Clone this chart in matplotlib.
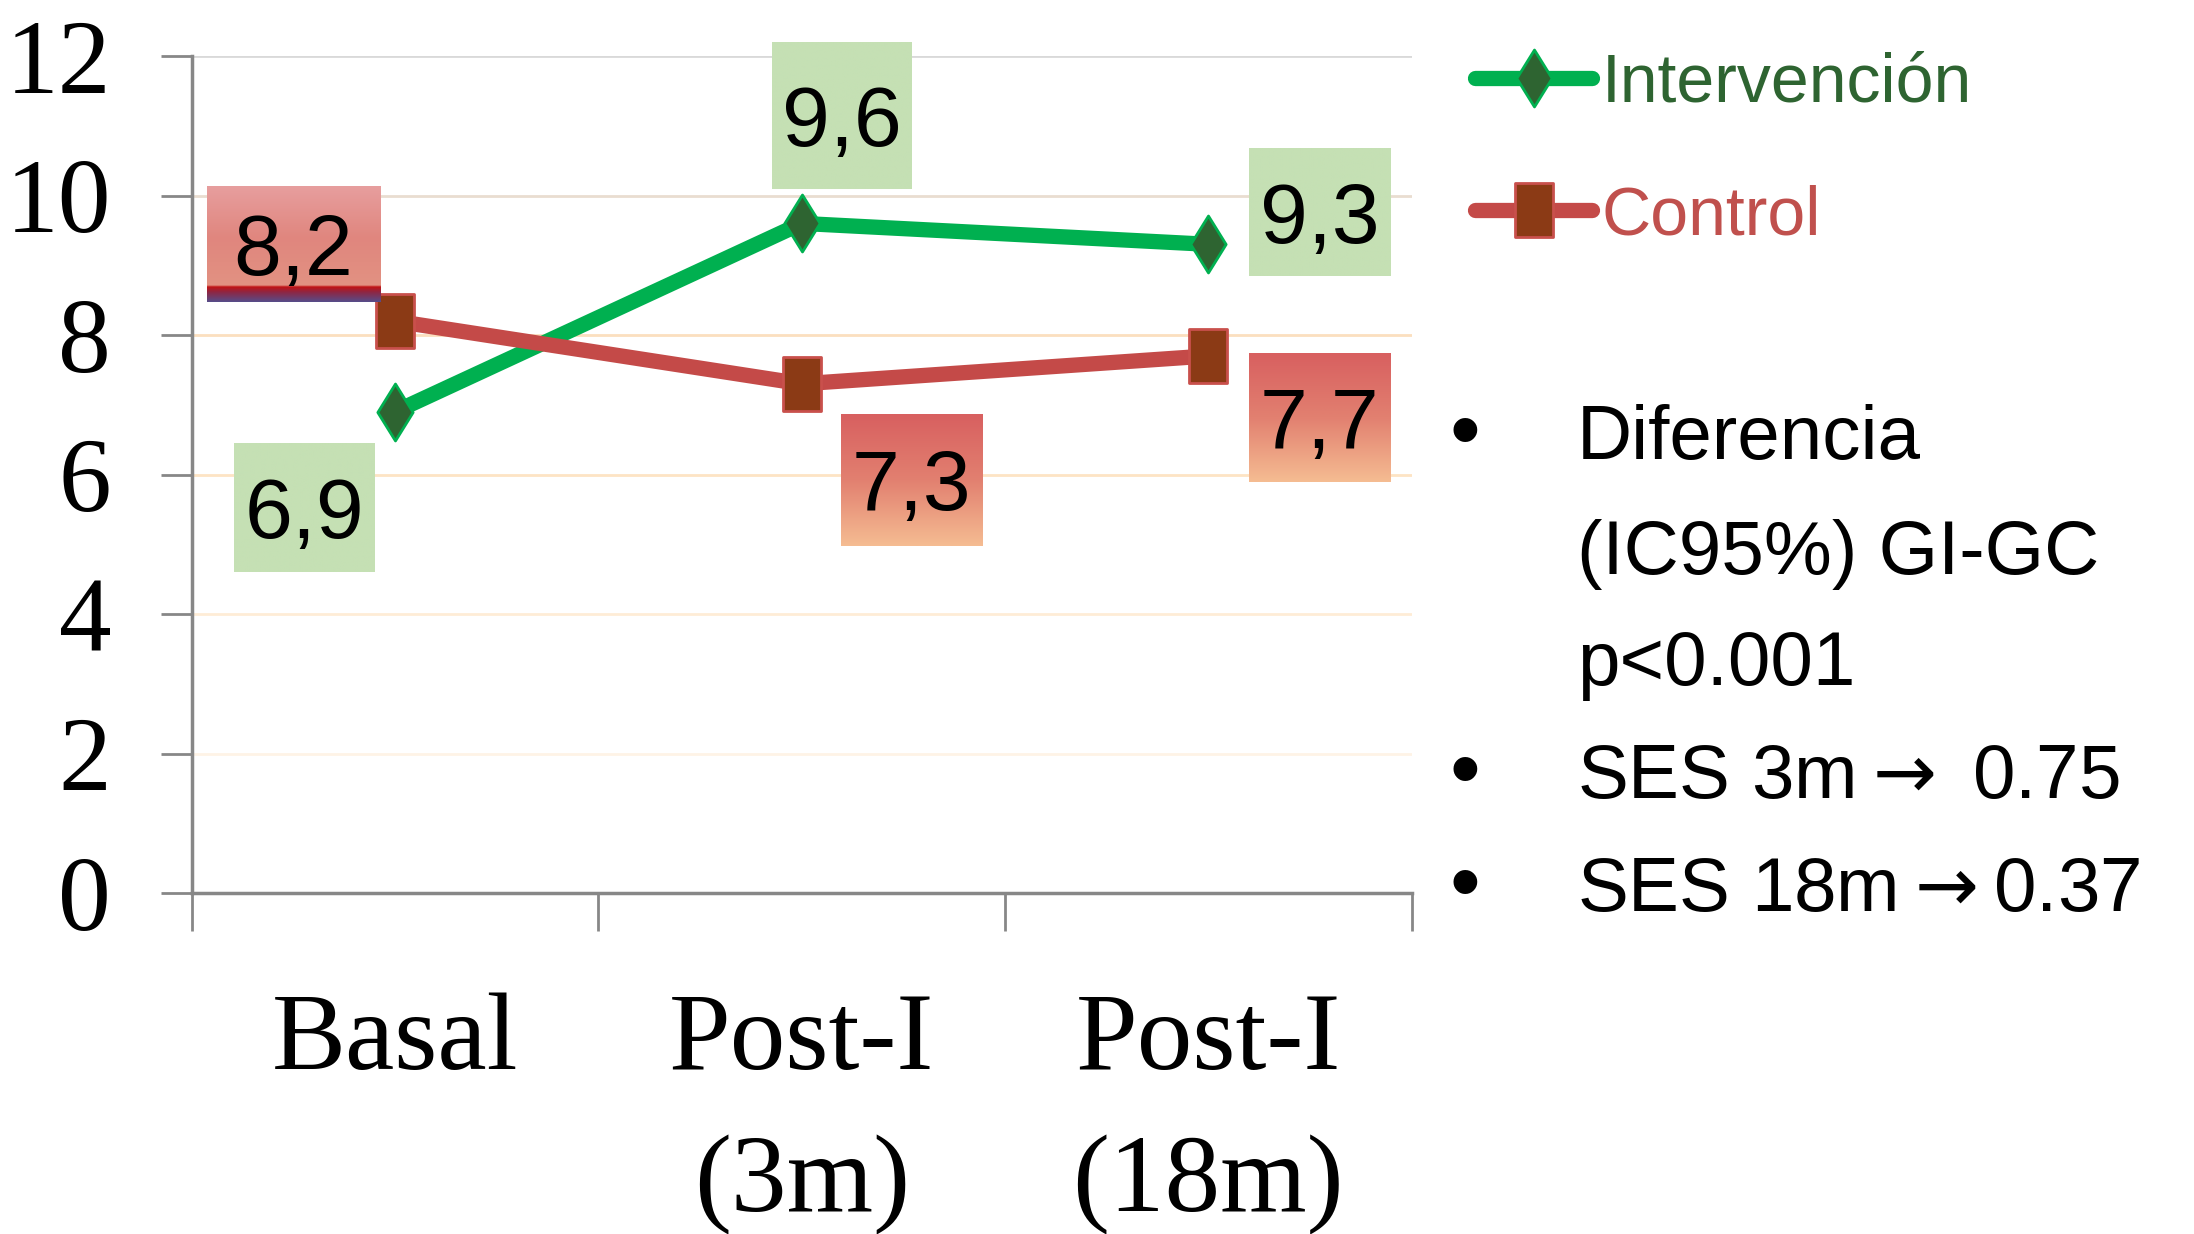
import numpy as np
import matplotlib
matplotlib.use('Agg')
import matplotlib.pyplot as plt
from matplotlib.path import Path

plt.rcParams['mathtext.fontset'] = 'dejavusans'

# data
categories = ['Basal', 'Post-I\n(3m)', 'Post-I\n(18m)']
intervencion = [6.9, 9.6, 9.3]
control = [8.2, 7.3, 7.7]
yticks = [0, 2, 4, 6, 8, 10, 12]
series_names = ['Intervención', 'Control']
notes = ['Diferencia', '(IC95%) GI-GC', 'p<0.001',
         'SES 3m$\\rightarrow$ 0.75', 'SES 18m$\\rightarrow$0.37']
bullets = [True, False, False, True, True]

SANS = ['Liberation Sans', 'DejaVu Sans']
SERIF = ['Liberation Serif', 'DejaVu Serif']
W, H = 2194, 1234
DPI = 100

GREEN, GREEN_DK = '#00b050', '#2e6431'
RED, BROWN = '#c44a48', '#8b3a15'
AXCOL = '#878787'

diamond = Path([(0, -1), (0.62, 0), (0, 1), (-0.62, 0), (0, -1)],
               [Path.MOVETO, Path.LINETO, Path.LINETO, Path.LINETO, Path.CLOSEPOLY])
rect = Path([(-0.69, -1), (0.69, -1), (0.69, 1), (-0.69, 1), (-0.69, -1)],
            [Path.MOVETO, Path.LINETO, Path.LINETO, Path.LINETO, Path.CLOSEPOLY])

fig = plt.figure(figsize=(W / DPI, H / DPI), dpi=DPI)
ax = fig.add_axes([191.7 / W, 1 - 893 / H, 1220 / W, 837 / H])
x = np.arange(len(categories))

ln_i = ax.plot(x, intervencion, color=GREEN, lw=11, marker=diamond, ms=41,
               mfc=GREEN_DK, mec=GREEN, mew=2, solid_capstyle='round', zorder=3)[0]
ln_c = ax.plot(x, control, color=RED, lw=11, marker=rect, ms=39,
               mfc=BROWN, mec='#c9504c', mew=2, solid_capstyle='round', zorder=3)[0]

ax.set_xlim(-0.5, len(categories) - 0.5)
ax.set_ylim(yticks[0], yticks[-1])
ax.set_yticks(yticks)
ax.set_yticklabels([str(v) for v in yticks], fontfamily=SERIF, fontsize=76)
ax.set_xticks(x)
ax.set_xticklabels(categories, fontfamily=SERIF, fontsize=80, linespacing=1.56)
ax.set_xticks(np.arange(len(categories) + 1) - 0.5, minor=True)
ax.tick_params(axis='x', which='major', length=0, pad=72)
ax.tick_params(axis='x', which='minor', length=27, width=2, color=AXCOL)
ax.tick_params(axis='y', length=22, width=2, color=AXCOL, pad=36)
for s in ['top', 'right']:
    ax.spines[s].set_visible(False)
for s in ['left', 'bottom']:
    ax.spines[s].set_color(AXCOL)
    ax.spines[s].set_linewidth(2.5)

ax.yaxis.grid(True, lw=2)
grid_cols = ['none', '#fef3e6', '#feecd6', '#fde4c4', '#fbdfbf', '#e9ddd0', '#d9d9d9']
for gl, c in zip(ax.get_ygridlines(), grid_cols):
    gl.set_color(c)
ax.set_axisbelow(True)


# label box fills
def ramp(stops, n=120):
    pos = np.array([s[0] for s in stops])
    cols = np.array([s[1] for s in stops], dtype=float) / 255
    t = np.linspace(0, 1, n)
    return np.stack([np.interp(t, pos, cols[:, k]) for k in range(3)], axis=1)[:, None, :]

fill_green = ramp([(0, (197, 224, 180)), (1, (197, 224, 180))], n=2)
fill_first = ramp([(0, (231, 158, 158)), (0.45, (224, 134, 126)), (0.86, (226, 146, 130)),
                   (0.87, (196, 18, 18)), (0.92, (140, 40, 70)), (1, (88, 76, 136))])
fill_red = ramp([(0, (216, 96, 96)), (0.5, (226, 128, 112)), (1, (245, 188, 146))])

# label offsets (points) of box centre from the point, and box size (px)
off_int = [(-65, -69), (29, 78), (80, 23)]
off_ctl = [(-73, 55), (79, -69), (80, -44)]
size_int = [(141, 129), (140, 147), (141, 128)]
size_ctl = [(174, 115), (141, 132), (141, 129)]
LAB_FS = 62

inv = ax.transData.inverted()
groups = [(intervencion, off_int, size_int, [fill_green] * 3),
          (control, off_ctl, size_ctl, [fill_first, fill_red, fill_red])]
for vals, offs, sizes, fills in groups:
    for xi, v, (ox, oy), (bw, bh), fill in zip(x, vals, offs, sizes, fills):
        px, py = ax.transData.transform((xi, v))
        cx, cy = px + ox * DPI / 72, py + oy * DPI / 72
        (x0, y0), (x1, y1) = inv.transform([[cx - bw / 2, cy - bh / 2], [cx + bw / 2, cy + bh / 2]])
        ax.imshow(fill, extent=[x0, x1, y0, y1], aspect='auto', interpolation='bilinear',
                  zorder=4, clip_on=False)
        ax.annotate(f'{v:.1f}'.replace('.', ','), (xi, v), xytext=(ox, oy - 0.358 * LAB_FS),
                    textcoords='offset points', ha='center', va='baseline',
                    fontsize=LAB_FS, family=SANS, zorder=5)
ax.set_xlim(-0.5, len(categories) - 0.5)
ax.set_ylim(yticks[0], yticks[-1])

# legend
fig.legend(handles=[ln_i, ln_c], labels=series_names, loc='upper left',
           bbox_to_anchor=(1475 / W, 1 - 52 / H), frameon=False,
           prop=dict(family=SANS, size=49), handlelength=1.72, handletextpad=0.14,
           labelspacing=1.0, borderpad=0, borderaxespad=0,
           labelcolor=[GREEN_DK, '#c0504d'])

# notes on the right
baselines = [459, 574, 685, 798, 911]
for s, b, yb in zip(notes, bullets, baselines):
    fig.text(1577 / W, 1 - yb / H, s, va='baseline', ha='left', fontsize=55, family=SANS)
    if b:
        fig.text(1465 / W, 1 - yb / H, '\u2022', va='baseline', ha='center', fontsize=63, family=SANS)

fig.savefig('out.png', dpi=DPI)
